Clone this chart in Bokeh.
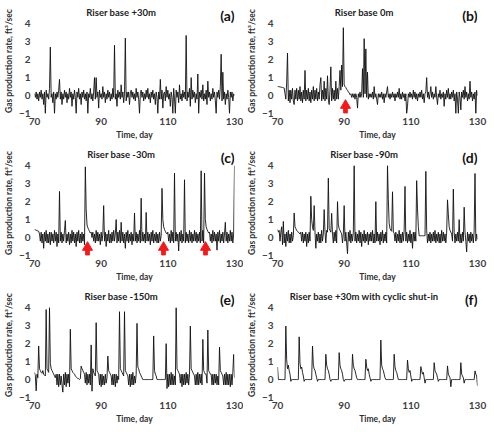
import numpy as np
from bokeh.plotting import figure
from bokeh.layouts import column, row
from bokeh.models import FixedTicker, Label
from bokeh.embed import file_html
from bokeh.resources import INLINE

# ---------------- data (gas production rate, ft3/sec, sampled every 0.25 day from day 70) -------------
START_DAY = 70.0
STEP_DAY = 0.25

rate_a = [
    0.1, -0.1, 0.2, -0.2,   0.1, -0.3, 0.2, -0.1,   0.3, -0.2, 0.1, -0.5,   0.2, -1.0, 0.3, -0.1,
    0.1, -0.2, 0.4, 2.7,    -0.1, 0.1, -0.4, 0.2,   -1.0, 0.1, -0.2, 0.2,   -0.1, 0.3, 0.9, -0.2,
    0.2, -0.5, 0.1, -0.2,   0.3, -0.1, 0.2, -0.4,   0.1, -0.2, 0.4, -0.1,   0.2, -0.6, 0.1, -0.2,
    0.3, -0.1, -1.0, 0.2,   -0.1, 0.4, -0.2, 0.1,   -0.5, 0.2, -0.1, 0.3,   -0.2, 0.1, -0.3, 0.2,
    -1.0, 0.1, -0.1, 0.4,   -0.2, 0.1, -0.3, 0.2,   1.0, -0.2, 1.0, -0.1,   0.2, -0.7, 0.3, -0.1,
    0.1, -0.2, 0.5, -0.1,   0.2, -0.4, 0.1, -0.2,   0.3, -0.1, 0.2, -0.3,   0.1, -0.2, 0.4, -0.1,
    2.8, -0.2, 0.1, -0.6,   0.3, -0.1, 0.2, -0.2,   0.6, -0.1, 0.2, -0.4,   0.1, 3.2, -0.3, 0.2,
    -0.1, 0.2, -0.5, 0.1,   0.3, -0.1, 0.2, -0.2,   0.1, -0.3, 0.4, -0.1,   0.2, -0.2, -1.0, 0.1,
    0.3, -0.1, 0.2, -0.3,   0.1, -0.2, 0.3, -0.1,   0.4, -0.2, 0.1, -0.4,   0.2, -0.1, 0.3, -0.2,
    0.1, -0.5, 0.2, -0.1,   -1.0, 0.2, -0.2, 0.9,   -0.2, 0.3, -0.7, 0.1,   0.2, -0.3, 0.5, -0.1,
    0.3, -0.2, 0.1, -0.6,   0.2, -0.1, -1.0, 0.4,   -0.2, -1.0, 0.3, -0.1,  0.2, -0.4, 0.6, -0.2,
    0.1, -0.3, 0.3, -0.1,   0.2, -0.2, 3.35, -0.3,  0.2, -0.1, 0.4, -0.6,   1.0, -0.2, 0.3, -0.1,
    0.2, -0.4, 0.1, -0.2,   1.2, -1.0, 0.2, -0.1,   0.3, -0.2, 0.6, -0.3,   0.1, -0.2, 0.3, -0.5,
    0.8, -0.1, 0.2, -0.3,   0.1, -0.2, 0.4, -0.1,   0.2, -0.3, -1.0, 0.2,   -0.1, 0.3, -0.2, 0.5,
    2.3, -0.3, 1.3, -0.2,   0.2, -0.5, 0.1, -0.2,   0.3, -0.1, -1.0, 0.2,   -0.1, 0.2, -0.3, 0.1,
    0.0,
]

rate_b = [
    0.5, 0.5, 0.49, 0.48,   0.47, 0.46, 0.45, 0.44, 0.42, 0.1, -0.2, 0.7,   2.37, -0.3, 0.3, -0.4,
    0.3, -0.2, 0.4, -0.3,   -0.5, 0.3, -0.2, 0.4,   -0.3, 0.3, -0.2, 0.5,   -0.3, 0.2, -0.4, 0.3,
    -0.2, 1.4, -0.3, 0.3,   -0.2, 0.4, -0.3, 0.2,   -0.4, 0.3, -0.2, 0.5,   -0.3, 0.3, -0.2, 0.4,
    -0.3, 0.2, -0.2, 0.6,   1.0, -0.3, 0.3, -0.2,   0.8, -0.3, 0.4, -0.2,   1.1, -0.2, -0.5, 0.3,
    1.6, -0.3, 0.4, -0.2,   0.3, -0.3, 0.8, -0.2,   0.4, -0.2, 0.5, 1.4,    0.3, 1.7, 0.5, 3.78,
    0.6, 0.5, 0.45, 0.35,   0.3, 0.2, 0.15, 0.05,   0.1, -0.1, 0.1, -0.1,   0.1, -0.2, 0.1, -0.1,
    -0.7, 0.1, -0.1, 0.2,   -0.1, 0.1, 1.5, -0.1,   3.17, 0.1, 2.6, -0.1,   1.3, -0.2, 0.1, -0.1,
    0.1, -0.1, 0.2, -0.2,   0.5, -0.1, 0.1, -0.2,   -0.5, 0.1, -0.1, 0.1,   -0.1, 0.2, -0.2, 0.1,
    -0.4, 0.1, -0.1, 0.2,   0.5, -0.1, 0.1, -0.2,   0.1, -0.1, 0.2, -0.1,   0.1, -0.3, 0.1, -0.1,
    0.2, -0.1, 0.4, -0.2,   0.1, -0.2, 0.2, -0.1,   0.1, -0.3, 0.1, -1.0,   -0.6, 0.1, -0.1, 0.2,
    -0.1, 0.1, -0.2, 0.3,   -0.1, 0.2, -0.2, 0.1,   -0.3, 0.1, -0.1, 0.2,   -0.1, 0.3, -0.2, 0.1,
    -0.4, 0.1, 0.2, 1.0,    -0.1, 0.2, -0.2, 0.1,   0.5, -0.1, 0.2, -0.2,   0.1, -0.1, 0.5, -0.1,
    -0.5, 0.1, -0.1, 0.3,   -0.2, 0.1, -0.1, 0.2,   -0.6, 0.1, -0.2, 0.3,   -0.1, 0.4, -0.2, 0.1,
    -0.2, 0.2, -0.1, 0.3,   -0.3, 0.1, -1.0, 0.2,   -0.2, -1.0, 0.2, -0.1,  -0.8, 0.2, -0.1, 0.3,
    -0.2, 0.5, -0.1, 0.2,   -0.3, 0.1, -0.2, 0.8,   -0.1, 0.2, -0.3, 0.1,   -0.2, 0.2, -1.0, 0.3,
    0.0,
]

rate_c = [
    0.45, 0.43, 0.41, 0.39, 0.37, 0.35, 0.2, -0.2,  0.3, -0.3, 0.2, -0.6,   0.3, -0.2, 0.4, -0.3,
    0.2, -0.3, 0.3, -0.4,   0.3, -0.2, 0.2, -0.3,   0.4, -0.2, 0.3, -0.5,   0.2, -0.3, 2.57, -0.2,
    0.3, -0.3, 0.2, -0.2,   0.4, 0.95, -0.3, 0.2,   -0.2, 0.3, -0.4, 0.2,   -0.3, 0.4, -0.2, 0.3,
    -0.3, 0.2, -0.5, 0.3,   -0.2, 0.4, -0.3, 0.2,   -0.3, 0.3, -0.2, 0.2,   -0.4, 3.94, 1.6, 0.7,
    0.55, 0.45, 0.35, 0.25, 0.3, 0.0, 0.3, -0.2,    0.2, -0.3, 0.4, -0.2,   0.3, -0.2, 0.2, -0.4,
    0.3, -0.2, 0.2, 1.78,   -0.2, 0.3, -0.5, 0.2,   -0.2, 0.4, -0.3, 0.2,   -0.3, 0.3, -0.2, 0.4,
    -0.2, 0.2, 1.0, -0.3,   0.3, -0.2, 0.4, -0.3,   0.85, -0.2, 0.3, -0.3,  0.2, -0.6, 0.3, -0.2,
    0.4, -0.3, 0.2, -0.2,   0.3, -0.4, 0.2, -0.2,   1.37, -0.2, 0.3, -0.3,  0.2, -0.2, 0.4, -0.3,
    2.19, -0.2, 0.3, -0.2,  0.2, -0.3, 1.4, -0.2,   0.3, -0.2, 0.2, -0.4,   0.3, -0.2, 0.4, -0.3,
    0.2, -0.2, 0.3, -0.3,   0.2, -0.3, 0.3, -0.2,   0.1, 2.74, 1.0, 0.6,    0.45, 0.35, 0.25, 0.2,
    0.3, -0.2, 0.2, -0.3,   0.4, -0.2, 0.3, -0.3,   3.59, -0.2, 0.3, -0.2,  0.2, -0.75, 0.3, -0.2,
    0.4, -0.3, 0.2, -0.2,   3.22, -0.3, 0.3, -0.2,  0.2, -0.3, 0.4, -0.2,   0.3, -0.3, 0.2, -0.2,
    0.4, -0.2, 0.3, -0.3,   0.2, -0.2, 0.3, -0.3,   3.72, -0.2, 0.4, -0.3,  3.59, 1.0, 0.6, 0.45,
    0.35, 0.25, 0.3, -0.2,  0.2, -0.3, 0.4, -0.2,   0.3, -0.2, 0.2, -0.7,   0.3, -0.2, 0.4, -0.3,
    0.2, -0.2, 0.3, -0.3,   0.2, 0.85, -0.2, 0.3,   -0.3, 0.2, -0.2, 0.4,   -0.2, 0.3, -0.3, 0.2,
    4.0,
]

rate_d = [
    0.45, 0.3, 0.4, -0.2,   0.3, 0.6, -0.4, 0.9,    -0.3, 0.2, -0.5, 0.3,   -0.2, 0.4, -0.3, 0.2,
    -0.3, 0.3, -0.2, 0.1,   1.37, 0.6, 0.5, 0.4,    0.35, 0.3, 0.25, 0.2,   0.3, -0.2, 0.3, -0.3,
    0.2, -0.2, 0.3, -0.5,   0.2, -0.3, 0.3, -0.2,   2.3, 1.0, 0.6, 0.4,     1.78, 0.3, -0.6, 0.2,
    -0.2, 0.3, -0.3, 0.2,   -0.3, 0.4, -0.2, 0.2,   1.56, 0.3, -0.3, 0.4,   0.3, 3.31, 0.5, 0.4,
    0.3, 1.35, 0.2, -0.3,   0.3, -0.2, 0.4, -0.3,   2.0, 0.7, 0.5, 0.4,     0.3, 0.2, -0.3, 0.2,
    1.78, -0.2, 0.3, -0.3,  -0.9, 0.3, -0.2, 0.4,   -0.3, 0.2, -0.2, 0.3,   4.0, -0.2, 0.3, -0.3,
    0.2, -0.2, 0.4, -0.3,   0.3, -0.5, 0.2, -0.2,   0.4, -0.3, 0.2, -0.2,   0.3, -0.4, 0.2, -0.2,
    0.3, -0.2, 0.4, -0.3,   0.2, -0.3, 2.0, -0.2,   0.3, -0.2, 0.2, -0.4,   0.3, -0.2, 0.4, -0.3,
    0.2, -0.2, 0.3, -0.3,   4.0, 2.1, 0.8, 0.5,     0.4, 0.35, 2.55, 0.3,   0.25, -0.2, 0.3, -0.3,
    0.2, -0.2, 0.4, -0.3,   0.2, -0.3, 0.3, -0.2,   0.4, 2.85, -0.2, 0.3,   -0.3, 0.2, -0.2, 0.4,
    -0.3, 0.2, -0.6, 0.3,   -0.2, 0.3, -0.2, 3.17,  1.6, 0.6, 0.1, 0.1,     0.1, 0.1, 0.1, 0.1,
    0.1, 0.1, 3.69, 0.4,    -0.3, 0.2, -0.2, 0.3,   -0.3, 0.2, -0.2, 0.3,   -0.2, 0.4, -0.3, 0.2,
    -0.2, 0.3, -0.3, 0.2,   -0.3, 0.4, -0.2, 0.3,   -0.2, 0.2, -0.3, 0.3,   2.1, 1.3, 0.6, 0.4,
    0.3, 0.2, -0.2, 2.7,    0.3, -0.3, 0.2, -0.2,   0.3, -0.2, 1.0, -0.3,   0.2, -0.3, 0.3, -0.2,
    1.69, 0.3, -0.2, -0.8,  0.3, -0.2, 0.2, -0.3,   0.3, -0.2, 0.2, -0.3,   0.4, 3.57, -0.2, 0.2,
    -0.1,
]

rate_e = [
    0.4, 0.2, -0.63, 0.3,   0.1, 1.87, 0.6, 0.5,    0.4, 0.35, 0.5, 0.3,    0.25, 0.2, 3.9, 0.6,
    0.5, 0.4, 4.0, 0.9,     0.6, 0.5, 0.4, 0.3,     0.2, 0.1, 0.3, -0.3,    0.3, -0.4, 0.3, -0.3,
    0.2, -0.3, -0.7, 0.3,   -0.3, 0.4, -0.4, 0.3,   -0.2, 0.3, -0.4, 2.8,   0.6, 0.5, 0.4, 0.35,
    0.3, 0.2, 0.15, 0.1,    0.05, 0.05, 0.0, 0.05,  0.75, 0.6, 0.5, 0.4,    0.3, -0.2, 0.4, -0.3,
    0.3, -0.2, 0.3, -0.3,   1.93, -0.65, 0.6, 0.4,  0.3, 0.2, 3.17, 0.5,    0.4, 0.3, -0.3, 0.3,
    -0.4, 0.3, -0.3, 0.2,   -0.3, 0.3, -0.2, 0.1,   1.31, 0.5, 0.4, 0.3,    0.2, -0.3, 0.3, -0.3,
    0.3, -0.4, 0.3, -0.2,   0.2, 0.0, 3.78, 0.6,    0.5, 0.4, 0.3, 0.2,     3.78, 0.5, 0.4, 0.3,
    0.2, -0.3, 0.3, -0.4,   0.3, -0.3, 0.4, -0.3,   0.2, -0.2, 0.3, 3.13,   0.7, 0.6, 0.4, 0.3,
    0.2, 0.1, 0.0, 0.0,     0.0, 0.0, 0.0, 0.0,     0.0, 0.0, 0.0, 0.0,     0.0, 0.0, 0.0, 2.43,
    0.5, 0.3, 0.2, 0.0,     0.0, 0.0, 0.0, 0.0,     0.0, 0.0, 0.0, 0.0,     0.0, 0.0, 2.0, -0.5,
    0.3, -0.4, 0.3, -0.3,   0.4, -0.3, 0.3, -0.3,   0.2, -0.3, 4.0, 0.6,    0.5, 0.4, 0.3, -0.2,
    0.3, -0.4, 0.3, -0.3,   0.3, -0.3, 0.4, -0.2,   0.3, -0.3, 0.3, 2.98,   0.6, 0.5, 0.4, 0.3,
    0.2, -0.3, 0.3, -0.3,   0.4, -0.3, 0.3, -0.2,   0.3, -0.3, 2.24, 0.5,   0.4, 0.3, 0.3, -0.2,
    2.76, 0.5, 0.4, 0.3,    0.3, -0.3, 0.3, -0.3,   0.3, -0.2, 0.3, -0.3,   0.2, -0.3, 1.81, 0.5,
    0.4, 0.3, 0.2, -0.3,    0.3, -0.3, 0.4, -0.3,   0.3, -0.3, 0.3, -0.4,   0.3, -0.3, 0.4, 1.4,
    0.1,
]

rate_f = [
    0.7, 0.0, 0.0, 0.0,     0.0, 0.0, 0.0, 0.0,     0.0, 0.0, 2.98, 1.1,    0.6, 0.8, 0.5, 0.3,
    -0.1, 0.0, 0.0, 0.0,    0.0, 0.0, 0.0, 0.0,     0.0, 0.0, 2.38, 0.9,    0.6, 0.7, 0.4, 0.2,
    -0.1, 0.0, 0.0, 0.0,    0.0, 0.0, 0.0, 0.0,     0.0, 0.0, 1.87, 0.8,    0.6, 0.5, 0.3, 0.1,
    -0.1, 0.0, 0.0, 0.0,    0.0, 0.0, 0.0, 0.0,     0.0, 0.0, 1.41, 0.8,    0.6, 0.5, 0.3, 0.0,
    -0.1, 0.0, 0.0, 0.0,    0.0, 0.0, 0.0, 0.0,     0.0, 0.0, 1.5, 0.8,     0.6, 0.5, 0.3, 0.0,
    -0.1, 0.0, 0.0, 0.0,    0.0, 0.0, 0.0, 0.0,     0.0, 0.0, 1.41, 0.8,    0.6, 0.5, 0.3, 0.1,
    0.0, 0.0, 0.0, 0.0,     0.0, 0.0, 0.0, 0.0,     0.0, 0.0, 1.13, 0.7,    0.5, 0.6, 0.3, 0.1,
    -0.1, 0.0, 0.0, 0.0,    0.0, 0.0, 0.0, 0.0,     0.0, 0.0, 0.0, 0.0,     2.2, 0.8, 0.6, 0.5,
    0.3, 0.1, 0.0, 0.0,     0.0, 0.0, 0.0, 0.0,     0.0, 0.0, 0.0, 0.0,     1.41, 0.7, 0.5, 0.4,
    0.2, 0.0, 0.0, 0.0,     0.0, 0.0, 0.0, 0.0,     0.0, 0.0, 0.0, 0.0,     1.09, 0.6, 0.4, 0.5,
    0.2, -0.1, 0.0, 0.0,    0.0, 0.0, 0.0, 0.0,     0.0, 0.0, 0.0, 0.0,     0.72, 0.5, 0.3, 0.4,
    0.1, -0.2, 0.0, 0.0,    0.0, 0.0, 0.0, 0.0,     0.0, 0.0, 0.0, 0.0,     0.94, 0.5, 0.4, 0.3,
    0.1, -0.1, 0.0, 0.0,    0.0, 0.0, 0.0, 0.0,     0.0, 0.0, 0.0, 0.0,     0.76, 0.3, 0.2, 0.1,
    -0.4, 0.0, 0.0, 0.0,    0.0, 0.0, 0.0, 0.0,     0.0, 0.0, 0.0, 0.0,     0.94, 0.3, 0.2, 0.1,
    -0.2, 0.0, 0.0, 0.0,    0.0, 0.0, 0.0, 0.0,     0.0, 0.0, 0.0, 0.0,     0.0, 0.48, 0.3, 0.2,
    -0.35,
]

panel_titles = ["Riser base +30m", "Riser base 0m", "Riser base -30m",
                "Riser base -90m", "Riser base -150m", "Riser base +30m with cyclic shut-in"]
panel_letters = ["(a)", "(b)", "(c)", "(d)", "(e)", "(f)"]
arrow_days_b = [90.4]
arrow_days_c = [85.9, 108.7, 121.3]
x_ticks = [70, 90, 110, 130]
y_ticks = [-1, 0, 1, 2, 3, 4]
x_label = "Time, day"
y_label = "Gas production rate, ft\u00b3/sec"

# ---------------- styling ----------------
FONT = "Lato"
LINE_COLOR = "#111111"
ARROW_COLOR = "#f01c1c"
Y_TOP = 4.85   # the frame also holds the panel title and letter


def make_panel(rate, title, letter, width, height, left, right, top, bottom, arrows=None):
    p = figure(width=width, height=height, x_range=(70, 130), y_range=(-1, Y_TOP),
               output_backend="svg", toolbar_location=None,
               min_border_left=left, min_border_right=right,
               min_border_top=top, min_border_bottom=bottom)
    p.outline_line_color = None
    p.grid.visible = False
    p.background_fill_color = "white"
    p.border_fill_color = "white"
    for ax in (p.xaxis[0], p.yaxis[0]):
        ax.axis_line_color = None
        ax.major_tick_line_color = None
        ax.minor_tick_line_color = None
        ax.major_tick_out = 0
        ax.major_tick_in = 0
        ax.major_label_text_font = FONT
        ax.major_label_text_font_style = "bold"
        ax.major_label_text_font_size = "10px"
        ax.major_label_text_color = "#404040"
        ax.axis_label_text_font = FONT
        ax.axis_label_text_font_style = "bold"
        ax.axis_label_text_color = "#303030"
    p.xaxis.ticker = FixedTicker(ticks=x_ticks)
    p.yaxis.ticker = FixedTicker(ticks=y_ticks)
    p.xaxis.axis_label = x_label
    p.yaxis.axis_label = y_label
    p.xaxis.axis_label_text_font_size = "8.5px"
    p.yaxis.axis_label_text_font_size = "8.5px"
    p.xaxis.major_label_standoff = 4
    p.yaxis.major_label_standoff = 4
    p.xaxis.axis_label_standoff = 2
    p.yaxis.axis_label_standoff = 2

    days = START_DAY + STEP_DAY * np.arange(len(rate))
    p.line(days, rate, line_color=LINE_COLOR, line_width=0.9)

    if arrows:
        p.vbar(x=arrows, bottom=-0.98, top=-0.68, width=1.1, color=ARROW_COLOR)
        p.scatter(x=arrows, y=[-0.55] * len(arrows), marker="triangle", size=10,
                  color=ARROW_COLOR)

    p.add_layout(Label(x=96, y=4.62, text=title, text_align="center", text_baseline="middle",
                       text_font=FONT, text_font_style="bold", text_font_size="9.5px",
                       text_color="#222222"))
    p.add_layout(Label(x=130, y=4.44, text=letter, text_align="right", text_baseline="middle",
                       text_font=FONT, text_font_style="bold", text_font_size="14px",
                       text_color="#111111"))
    return p


W1, W2 = 243, 251
L1, R1 = 34, 9
L2, R2 = 34, 17
H = 142
TOP, BOT = 8, 29

panels = []
for i, (rate, arrows) in enumerate([(rate_a, None), (rate_b, arrow_days_b),
                                    (rate_c, arrow_days_c), (rate_d, None),
                                    (rate_e, None), (rate_f, None)]):
    if i % 2 == 0:
        panels.append(make_panel(rate, panel_titles[i], panel_letters[i], W1, H, L1, R1, TOP, BOT, arrows))
    else:
        panels.append(make_panel(rate, panel_titles[i], panel_letters[i], W2, H, L2, R2, TOP, BOT, arrows))

layout = column(row(panels[0], panels[1]), row(panels[2], panels[3]), row(panels[4], panels[5]))

open("out.html", "w").write(file_html(layout, INLINE))
